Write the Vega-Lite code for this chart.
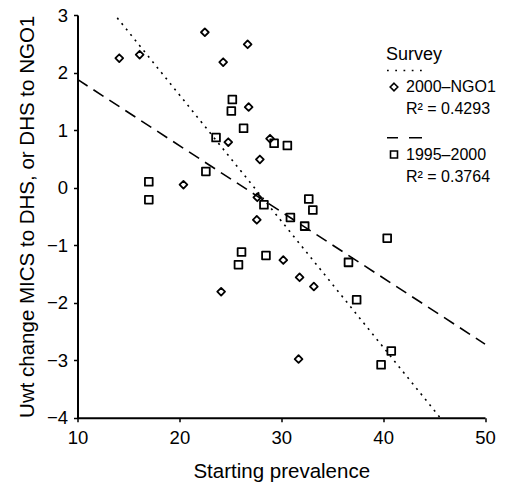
{
  "$schema": "https://vega.github.io/schema/vega-lite/v6.json",
  "width": 407.5,
  "height": 402.7,
  "autosize": "none",
  "padding": {"left": 77.5, "top": 15, "right": 30, "bottom": 67.3},
  "config": {
    "view": {"stroke": null},
    "font": "Liberation Sans",
    "style": {"guide-label": {"lineHeight": 22}},
    "axis": {
      "grid": false,
      "domainColor": "black",
      "domainWidth": 2,
      "tickColor": "black",
      "tickWidth": 1.5,
      "tickSize": 4,
      "labelFlush": false,
      "labelFontSize": 18.5,
      "labelColor": "black",
      "titleFontSize": 20.5,
      "titleFontWeight": "normal",
      "titleColor": "black"
    }
  },
  "datasets": {
    "points": [
      {"survey": "2000–NGO1", "prevalence": 14.1, "change": 2.25},
      {"survey": "2000–NGO1", "prevalence": 16.1, "change": 2.31},
      {"survey": "2000–NGO1", "prevalence": 22.5, "change": 2.70},
      {"survey": "2000–NGO1", "prevalence": 24.3, "change": 2.18},
      {"survey": "2000–NGO1", "prevalence": 26.7, "change": 2.49},
      {"survey": "2000–NGO1", "prevalence": 26.8, "change": 1.40},
      {"survey": "2000–NGO1", "prevalence": 24.8, "change": 0.79},
      {"survey": "2000–NGO1", "prevalence": 28.9, "change": 0.85},
      {"survey": "2000–NGO1", "prevalence": 27.9, "change": 0.49},
      {"survey": "2000–NGO1", "prevalence": 20.4, "change": 0.05},
      {"survey": "2000–NGO1", "prevalence": 27.65, "change": -0.17},
      {"survey": "2000–NGO1", "prevalence": 27.6, "change": -0.56},
      {"survey": "2000–NGO1", "prevalence": 30.2, "change": -1.26},
      {"survey": "2000–NGO1", "prevalence": 24.1, "change": -1.81},
      {"survey": "2000–NGO1", "prevalence": 31.8, "change": -1.56},
      {"survey": "2000–NGO1", "prevalence": 33.2, "change": -1.72},
      {"survey": "2000–NGO1", "prevalence": 31.7, "change": -2.98},
      {"survey": "1995–2000", "prevalence": 25.2, "change": 1.53},
      {"survey": "1995–2000", "prevalence": 25.1, "change": 1.33},
      {"survey": "1995–2000", "prevalence": 26.3, "change": 1.03},
      {"survey": "1995–2000", "prevalence": 23.6, "change": 0.87},
      {"survey": "1995–2000", "prevalence": 29.3, "change": 0.77},
      {"survey": "1995–2000", "prevalence": 30.6, "change": 0.73},
      {"survey": "1995–2000", "prevalence": 22.6, "change": 0.28},
      {"survey": "1995–2000", "prevalence": 17.0, "change": 0.10},
      {"survey": "1995–2000", "prevalence": 17.0, "change": -0.21},
      {"survey": "1995–2000", "prevalence": 28.3, "change": -0.30},
      {"survey": "1995–2000", "prevalence": 32.7, "change": -0.20},
      {"survey": "1995–2000", "prevalence": 33.1, "change": -0.39},
      {"survey": "1995–2000", "prevalence": 30.9, "change": -0.52},
      {"survey": "1995–2000", "prevalence": 32.3, "change": -0.67},
      {"survey": "1995–2000", "prevalence": 40.4, "change": -0.88},
      {"survey": "1995–2000", "prevalence": 36.6, "change": -1.30},
      {"survey": "1995–2000", "prevalence": 26.1, "change": -1.12},
      {"survey": "1995–2000", "prevalence": 25.8, "change": -1.34},
      {"survey": "1995–2000", "prevalence": 28.5, "change": -1.18},
      {"survey": "1995–2000", "prevalence": 37.4, "change": -1.95},
      {"survey": "1995–2000", "prevalence": 40.8, "change": -2.84},
      {"survey": "1995–2000", "prevalence": 39.8, "change": -3.08}
    ],
    "fits": [
      {"survey": "2000–NGO1", "prevalence": 13.9, "change": 2.95},
      {"survey": "2000–NGO1", "prevalence": 45.6, "change": -4.0},
      {"survey": "1995–2000", "prevalence": 10, "change": 1.88},
      {"survey": "1995–2000", "prevalence": 50, "change": -2.72}
    ],
    "empty": []
  },
  "layer": [
    {
      "data": {"name": "fits"},
      "mark": {"type": "line", "color": "black", "strokeWidth": 1.6},
      "encoding": {
        "x": {
          "field": "prevalence", "type": "quantitative",
          "scale": {"domain": [10, 50], "nice": false, "zero": false},
          "axis": {"title": "Starting prevalence", "values": [10, 20, 30, 40, 50], "labelPadding": 7, "titlePadding": 14.5}
        },
        "y": {
          "field": "change", "type": "quantitative",
          "scale": {"domain": [-4, 3], "nice": false, "zero": false},
          "axis": {"title": "Uwt change MICS to DHS, or DHS to NGO1", "values": [-4, -3, -2, -1, 0, 1, 2, 3], "format": "d", "labelPadding": 6, "titlePadding": 9}
        },
        "strokeDash": {
          "field": "survey", "type": "nominal",
          "scale": {"domain": ["2000–NGO1", "1995–2000"], "range": [[2, 5], [12, 7]]},
          "legend": null
        }
      }
    },
    {
      "data": {"name": "points"},
      "mark": {"type": "point", "filled": false, "color": "black", "strokeWidth": 1.8, "size": 60, "strokeJoin": "round", "opacity": 1},
      "encoding": {
        "x": {"field": "prevalence", "type": "quantitative"},
        "y": {"field": "change", "type": "quantitative"},
        "shape": {
          "field": "survey", "type": "nominal",
          "scale": {"domain": ["2000–NGO1", "1995–2000"], "range": ["diamond", "square"]},
          "legend": null
        }
      }
    },
    {
      "data": {"name": "empty"},
      "mark": {"type": "point", "filled": false, "color": "black", "strokeWidth": 1.6, "opacity": 1},
      "encoding": {
        "x": {"field": "prevalence", "type": "quantitative"},
        "y": {"field": "change", "type": "quantitative"},
        "shape": {
          "field": "survey", "type": "nominal",
          "scale": {
            "domain": ["2000–NGO1", "1995–2000"],
            "range": [
              "M0,-0.76L0.76,0L0,0.76L-0.76,0ZM-1.4,-3.3h0.35M0.25,-3.3h0.35M1.9,-3.3h0.35M3.55,-3.3h0.35M5.2,-3.3h0.35",
              "M-0.7,-0.7h1.4v1.4h-1.4ZM-1.4,-3.35H0.8M3,-3.35H5.6"
            ]
          },
          "legend": {
            "title": "Survey",
            "orient": "none",
            "legendX": 308.5,
            "legendY": 31,
            "padding": 0,
            "titleFontSize": 18,
            "titleFontWeight": "normal",
            "titleColor": "black",
            "titlePadding": 15,
            "symbolSize": 100,
            "symbolStrokeWidth": 1.6,
            "symbolStrokeColor": "black",
            "symbolFillColor": "transparent",
            "labelFontSize": 16,
            "labelColor": "black",
            "labelOffset": 4,
            "labelLimit": 0,
            "rowPadding": 17.5,
            "labelExpr": "datum.label == '2000–NGO1' ? ['2000–NGO1', '\u00a0\u00a0R² = 0.4293'] : ['1995–2000', '\u00a0\u00a0R² = 0.3764']"
          }
        }
      }
    }
  ],
  "resolve": {"scale": {"shape": "independent"}, "legend": {"shape": "independent"}}
}
